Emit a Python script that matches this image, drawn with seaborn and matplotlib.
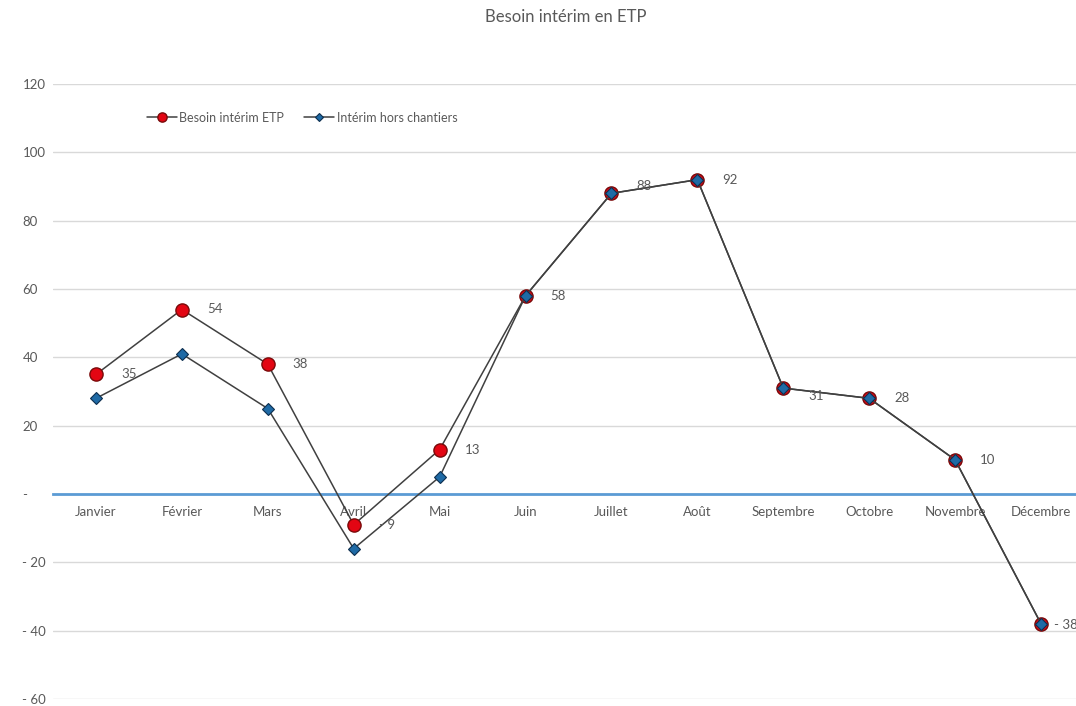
import matplotlib
matplotlib.use("Agg")
import matplotlib.pyplot as plt
import seaborn as sns
import pandas as pd
from matplotlib.ticker import FixedLocator, FuncFormatter

mois = ["Janvier", "Février", "Mars", "Avril", "Mai", "Juin", "Juillet",
        "Août", "Septembre", "Octobre", "Novembre", "Décembre"]
besoin_etp = [35, 54, 38, -9, 13, 58, 88, 92, 31, 28, 10, -38]
hors_chantiers = [28, 41, 25, -16, 5, 58, 88, 92, 31, 28, 10, -38]
y_ticks = [-60, -40, -20, 0, 20, 40, 60, 80, 100, 120]

sns.set_theme(style="white")
plt.rcParams["font.family"] = ["Lato", "DejaVu Sans"]
GREY = "#595959"

df = pd.DataFrame({"pos": range(len(mois)), "mois": mois,
                   "besoin": besoin_etp, "hors": hors_chantiers})

fig = plt.figure(figsize=(10.76, 7.06), dpi=100)
ax = fig.add_axes([53 / 1076, 7 / 706, 1031 / 1076, 615 / 706])

sns.lineplot(data=df, x="pos", y="besoin", ax=ax, color="#404040", linewidth=1.1,
             marker="o", markersize=9.5, markerfacecolor="#e30613",
             markeredgecolor="#7a0a0a", markeredgewidth=1.0,
             label="Besoin intérim ETP", sort=False, zorder=3)
sns.lineplot(data=df, x="pos", y="hors", ax=ax, color="#404040", linewidth=1.1,
             marker="D", markersize=6.5, markerfacecolor="#1f6aa5",
             markeredgecolor="#0d2f4f", markeredgewidth=0.8,
             label="Intérim hors chantiers", sort=False, zorder=4)

ax.set_xlim(-0.5, len(mois) - 0.5)
ax.set_ylim(-60, 120)
ax.yaxis.set_major_locator(FixedLocator(y_ticks))


def fmt(v, _=None):
    v = int(round(v))
    if v == 0:
        return "-"
    if v < 0:
        return "- " + str(-v)
    return str(v)


ax.yaxis.set_major_formatter(FuncFormatter(fmt))
ax.grid(axis="y", color="#d9d9d9", linewidth=1.0)
ax.grid(axis="x", visible=False)
for s in ["top", "right", "left"]:
    ax.spines[s].set_visible(False)
ax.spines["bottom"].set_position(("data", 0))
ax.spines["bottom"].set_color("#5b9bd5")
ax.spines["bottom"].set_linewidth(2.0)
ax.spines["bottom"].set_zorder(2)

ax.set_xticks(range(len(mois)))
ax.set_xticklabels(mois)
ax.tick_params(axis="x", length=0, pad=9, labelsize=9.5, labelcolor=GREY)
ax.tick_params(axis="y", length=0, pad=22, labelsize=9.5, labelcolor=GREY)
for lbl in ax.get_yticklabels():
    lbl.set_horizontalalignment("left")
ax.set_xlabel("")
ax.set_ylabel("")

label_offsets = {6: (18, 5), 8: (18, -6), 11: (9, -1)}
for i, v in enumerate(besoin_etp):
    off = label_offsets.get(i, (18, 0))
    ax.annotate(fmt(v), (i, v), xytext=off, textcoords="offset points",
                fontsize=9.5, color=GREY, va="center", ha="left", zorder=5)

leg = ax.legend(loc="center left", bbox_to_anchor=(0.08, 0.945), ncol=2,
                frameon=False, fontsize=9, handlelength=2.4, columnspacing=1.6,
                handletextpad=0.2, labelcolor=GREY, markerscale=0.7)

fig.text(566 / 1076, 1 - 17 / 706, "Besoin intérim en ETP", ha="center", va="center",
         fontsize=12, color=GREY)

fig.savefig("out.png", dpi=100, facecolor="white")
